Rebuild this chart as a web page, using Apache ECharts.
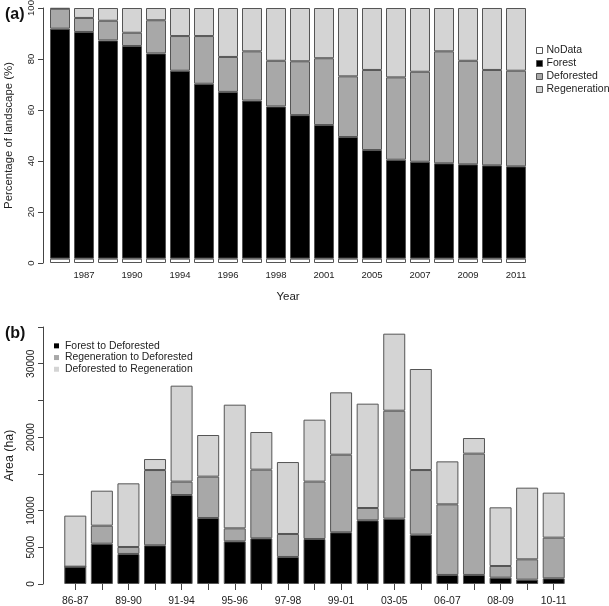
<!DOCTYPE html>
<html><head><meta charset="utf-8">
<script src="https://cdn.jsdelivr.net/npm/echarts@6/dist/echarts.min.js"></script>
<style>html,body{margin:0;padding:0;background:#fff}#c{width:609px;height:606px}</style>
</head><body><div id="c"></div>
<script>
const years = ['1986','1987','1989','1990','1991','1994','1995','1996','1997','1998','1999','2001','2003','2005','2006','2007','2008','2009','2010','2011'];
const noData = [1.7,1.7,1.7,1.7,1.7,1.7,1.7,1.7,1.7,1.7,1.7,1.7,1.7,1.7,1.7,1.7,1.7,1.7,1.7,1.7];
const forest = [90.2,88.9,85.6,83.4,80.5,73.7,68.6,65.4,62.0,59.7,56.3,52.4,47.7,42.6,38.8,38.0,37.4,37.0,36.6,36.2];
const deforested = [7.8,5.5,7.7,5.2,13.0,13.6,18.7,13.7,19.3,17.9,21.1,26.2,23.8,31.4,32.3,35.3,43.9,40.6,37.4,37.5];
const regeneration = [0.3,3.9,5.0,9.7,4.8,11.0,11.0,19.2,17.0,20.7,20.9,19.7,26.8,24.3,27.2,25.0,17.0,20.7,24.3,24.6];

const periods = ['86-87','87-89','89-90','90-91','91-94','94-95','95-96','96-97','97-98','98-99','99-01','01-03','03-05','05-06','06-07','07-08','08-09','09-10','10-11'];
const forestToDef = [2360,5490,4090,5270,12120,8990,5810,6220,3680,6130,7040,8670,8900,6720,1230,1230,860,590,770];
const regenToDef = [0,2450,950,10250,1820,5630,1770,9350,3130,7810,10570,1680,14700,8800,9620,16520,1590,2770,5540];
const defToRegen = [6950,4770,8670,1500,13070,5670,16840,5130,9800,8440,8490,14210,10490,13760,5850,2130,7990,9760,6130];

const FONT = 'Liberation Sans, Arial, sans-serif';
const TXT = '#222';
const AX = '#444';
const BORDER = '#555';
const C_BLACK = '#000000', C_DARK = '#a8a8a8', C_LIGHT = '#d4d4d4';

const chart = echarts.init(document.getElementById('c'), null, {renderer: 'canvas'});

function barSeries(name, data, color, xi, yi, stack, bw) {
  return {
    type: 'bar', name: name, data: data, stack: stack,
    xAxisIndex: xi, yAxisIndex: yi, barWidth: bw,
    itemStyle: {color: color, borderColor: BORDER, borderWidth: 1},
    emphasis: {disabled: true}, animation: false
  };
}

chart.setOption({
  animation: false,
  textStyle: {fontFamily: FONT},
  title: [
    {text: '(a)', left: 0, top: 2, textStyle: {fontSize: 16, fontWeight: 'bold', color: '#111', fontFamily: FONT}},
    {text: '(b)', left: 0, top: 321, textStyle: {fontSize: 16, fontWeight: 'bold', color: '#111', fontFamily: FONT}}
  ],
  grid: [
    {left: 48, width: 480, top: 8, height: 255, containLabel: false, outerBoundsMode: 'none'},
    {left: 62, width: 505, top: 327, height: 257, containLabel: false, outerBoundsMode: 'none'}
  ],
  legend: [
    {
      data: ['NoData','Forest','Deforested','Regeneration'],
      orient: 'vertical', left: 531, top: 39, itemGap: 0,
      itemWidth: 6, itemHeight: 6, icon: 'rect',
      itemStyle: {borderColor: BORDER, borderWidth: 1},
      textStyle: {fontSize: 10.5, color: TXT, lineHeight: 13, fontFamily: FONT, padding: [0,0,0,-1]},
      selectedMode: false
    },
    {
      data: ['Forest to Deforested','Regeneration to Deforested','Deforested to Regeneration'],
      orient: 'vertical', left: 49, top: 335, itemGap: 0,
      itemWidth: 5, itemHeight: 5, icon: 'rect',
      itemStyle: {borderWidth: 0},
      textStyle: {fontSize: 10.4, color: TXT, lineHeight: 11.7, fontFamily: FONT, padding: [0,0,0,1]},
      selectedMode: false
    }
  ],
  xAxis: [
    {
      type: 'category', gridIndex: 0, data: years,
      name: 'Year', nameLocation: 'middle', nameGap: 28,
      nameTextStyle: {fontSize: 11.5, color: TXT},
      axisLine: {show: false}, axisTick: {show: false},
      axisLabel: {interval: function(i){return i % 2 === 1;}, fontSize: 9.5, color: TXT, margin: 7}
    },
    {
      type: 'category', gridIndex: 1, data: periods,
      axisLine: {show: false},
      axisTick: {show: true, alignWithLabel: true, interval: 0, length: 6, lineStyle: {color: AX}},
      axisLabel: {interval: 1, fontSize: 10.4, color: TXT, margin: 12}
    }
  ],
  yAxis: [
    {
      type: 'value', gridIndex: 0, min: 0, max: 100, interval: 20, offset: 5,
      name: 'Percentage of landscape (%)', nameLocation: 'middle', nameGap: 29,
      nameTextStyle: {fontSize: 11.4, color: TXT},
      axisLine: {show: true, lineStyle: {color: AX}},
      axisTick: {show: true, length: 5, lineStyle: {color: AX}},
      axisLabel: {rotate: 90, fontSize: 9.5, color: TXT, margin: 7},
      splitLine: {show: false}
    },
    {
      type: 'value', gridIndex: 1, min: 0, max: 35000, interval: 5000, offset: 19,
      name: 'Area (ha)', nameLocation: 'middle', nameGap: 27,
      nameTextStyle: {fontSize: 12.4, color: TXT},
      axisLine: {show: true, lineStyle: {color: AX}},
      axisTick: {show: true, length: 5, lineStyle: {color: AX}},
      axisLabel: {rotate: 90, fontSize: 10.2, color: TXT, margin: 7,
        formatter: function(v){ return (v === 15000 || v === 25000 || v === 35000) ? '' : String(v); }},
      splitLine: {show: false}
    }
  ],
  series: [
    barSeries('NoData', noData, '#ffffff', 0, 0, 'a', 20),
    barSeries('Forest', forest, C_BLACK, 0, 0, 'a', 20),
    barSeries('Deforested', deforested, C_DARK, 0, 0, 'a', 20),
    barSeries('Regeneration', regeneration, C_LIGHT, 0, 0, 'a', 20),
    barSeries('Forest to Deforested', forestToDef, C_BLACK, 1, 1, 'b', 22),
    barSeries('Regeneration to Deforested', regenToDef, C_DARK, 1, 1, 'b', 22),
    barSeries('Deforested to Regeneration', defToRegen, C_LIGHT, 1, 1, 'b', 22)
  ]
});
</script>
</body></html>
